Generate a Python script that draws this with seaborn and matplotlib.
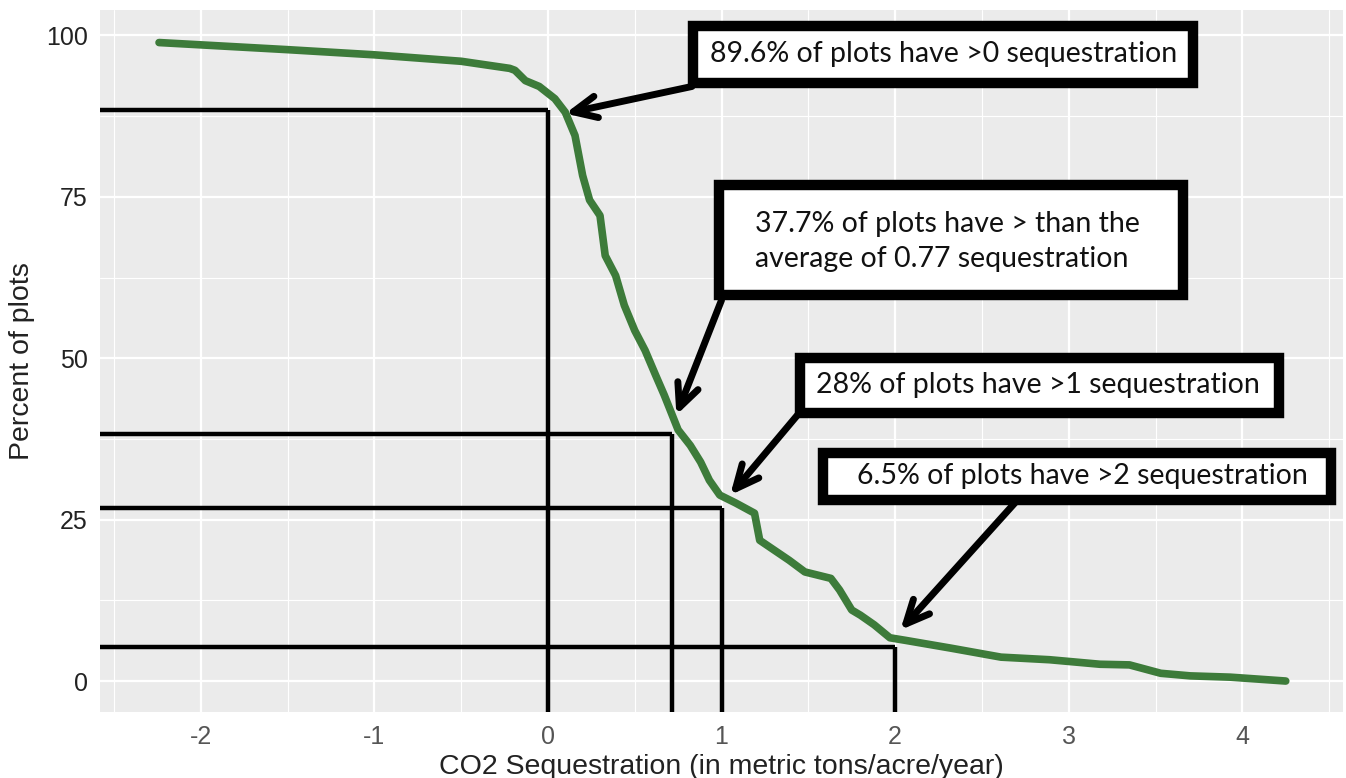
import numpy as np
import pandas as pd
import matplotlib
matplotlib.use("Agg")
import matplotlib.pyplot as plt
from matplotlib.patches import Rectangle
from matplotlib.ticker import MultipleLocator
import seaborn as sns

# curve: percent of plots with sequestration above x
seq_x = [-2.24, -1.5, -1.0, -0.5, -0.22, -0.19, -0.13, -0.05, 0.04, 0.10, 0.156,
         0.20, 0.24, 0.30, 0.33, 0.39, 0.44, 0.50, 0.56, 0.62, 0.67, 0.75, 0.82,
         0.88, 0.93, 0.99, 1.08, 1.19, 1.22, 1.39, 1.48, 1.63, 1.68, 1.75, 1.80,
         1.88, 1.97, 2.06, 2.32, 2.61, 2.89, 3.18, 3.35, 3.53, 3.70, 3.93, 4.25]
pct_plots = [98.9, 97.8, 97.0, 96.0, 94.9, 94.6, 93.0, 92.1, 90.2, 88.1, 84.5,
             78.3, 74.5, 72.1, 65.9, 62.8, 58.2, 54.3, 51.2, 47.4, 44.3, 38.9, 36.5,
             33.9, 31.1, 28.8, 27.6, 26.0, 21.8, 18.7, 16.9, 15.9, 14.1, 11.0, 10.2,
             8.7, 6.7, 6.3, 5.1, 3.7, 3.3, 2.6, 2.5, 1.2, 0.8, 0.6, 0.0]

# threshold guide lines (x threshold, percent level)
guide_x = [0.0, 0.715, 1.0, 2.0]
guide_y = [88.5, 38.2, 26.8, 5.3]

labels = ["89.6% of plots have >0 sequestration",
          "37.7% of plots have > than the\naverage of 0.77 sequestration",
          "28% of plots have >1 sequestration",
          "6.5% of plots have >2 sequestration"]

df = pd.DataFrame({"x": seq_x, "y": pct_plots})

sns.set_theme(style="darkgrid")
plt.rcParams["font.family"] = ["Liberation Sans", "DejaVu Sans"]
plt.rcParams["axes.facecolor"] = "#EBEBEB"
plt.rcParams["axes.unicode_minus"] = False

fig = plt.figure(figsize=(13.46, 7.78), dpi=100)
ax = fig.add_axes([0.0743, 0.0848, 0.9235, 0.902])

xmin, xmax = -2.58, 4.58
ymin, ymax = -4.8, 103.9

# reference lines
for gx, gy in zip(guide_x, guide_y):
    ax.plot([xmin, gx], [gy, gy], color="black", lw=3.2, solid_capstyle="butt", zorder=3)
    ax.plot([gx, gx], [ymin, gy], color="black", lw=3.2, solid_capstyle="butt", zorder=3)

sns.lineplot(data=df, x="x", y="y", color="#3D7B3A", lw=5.5, sort=False,
             estimator=None, ax=ax, zorder=4)

# annotation boxes (data coords: x0, x1, y0, y1) and text centres
boxes = [(0.836, 3.718, 92.6, 101.5), (0.986, 3.66, 59.8, 76.8),
         (1.452, 4.213, 41.5, 50.0), (1.585, 4.513, 28.0, 35.3)]
text_pos = [(2.28, 97.1), (2.30, 68.1), (2.82, 45.8), (3.08, 31.7)]
arrows = [((0.83, 92.1), (0.10, 87.9)), ((1.00, 59.0), (0.74, 41.2)),
          ((1.45, 41.6), (1.05, 28.8)), ((2.69, 27.6), (2.03, 7.9))]

for (tail, head) in arrows:
    ax.annotate("", xy=head, xytext=tail, zorder=6,
                arrowprops=dict(arrowstyle="->,head_length=1.4,head_width=0.65",
                                color="black", lw=5, shrinkA=0, shrinkB=0))

for (x0, x1, y0, y1), (tx, ty), lab in zip(boxes, text_pos, labels):
    ax.add_patch(Rectangle((x0, y0), x1 - x0, y1 - y0, facecolor="white",
                           edgecolor="black", lw=7.5, zorder=7))
    ax.text(tx, ty, lab, ha="center", va="center", multialignment="left",
            fontsize=20.5, family=["Lato", "DejaVu Sans"], color="#111111",
            linespacing=1.45, zorder=8)

ax.set_xlim(xmin, xmax)
ax.set_ylim(ymin, ymax)
ax.set_xticks([-2, -1, 0, 1, 2, 3, 4])
ax.set_yticks([0, 25, 50, 75, 100])
ax.xaxis.set_minor_locator(MultipleLocator(0.5))
ax.yaxis.set_minor_locator(MultipleLocator(12.5))
ax.grid(which="major", color="white", lw=1.6)
ax.grid(which="minor", color="white", lw=0.8)
ax.tick_params(which="major", length=5, width=1.2, color="#444444",
               labelsize=18, pad=4)
ax.tick_params(axis="x", labelcolor="#555555")
ax.tick_params(axis="y", labelcolor="#222222")
ax.tick_params(which="minor", length=0)
for s in ax.spines.values():
    s.set_visible(False)

ax.set_xlabel("CO2 Sequestration (in metric tons/acre/year)", fontsize=20.5,
              color="#222222", labelpad=4)
ax.set_ylabel("Percent of plots", fontsize=20.5, color="#222222", labelpad=8)

fig.savefig("out.png", dpi=100, facecolor="white")
